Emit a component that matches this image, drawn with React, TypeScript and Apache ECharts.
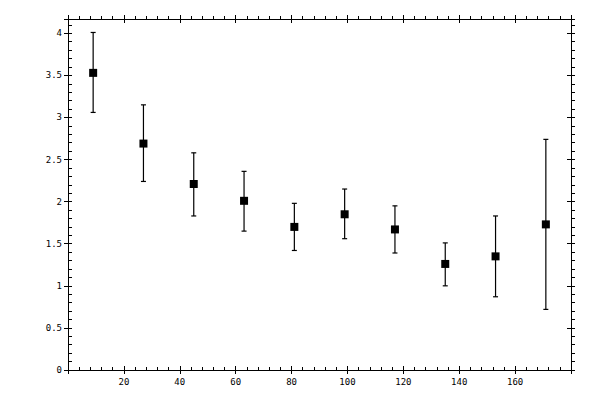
import React, { useEffect, useRef } from "react";
import * as echarts from "echarts";

// bin centres along x
const binCentres = [9, 27, 45, 63, 81, 99, 117, 135, 153, 171];
// mean values
const means = [3.53, 2.69, 2.21, 2.01, 1.7, 1.85, 1.67, 1.26, 1.35, 1.73];
// error bar ends
const lows = [3.06, 2.24, 1.83, 1.65, 1.42, 1.56, 1.39, 1.0, 0.87, 0.72];
const highs = [4.01, 3.15, 2.58, 2.36, 1.98, 2.15, 1.95, 1.51, 1.83, 2.74];

const X_MIN = 0;
const X_MAX = 180;
const Y_MIN = 0;
const Y_MAX = 4.17;

const FONT = "DejaVu Sans Mono";
const lineStyle = { color: "#000", width: 1 };

// one axis per side that carries line, labels and inner/outer ticks,
// plus a helper axis giving the major ticks their other half
const makeX = (position: string, main: boolean, inside: boolean) => ({
  type: "value",
  position,
  min: X_MIN,
  max: X_MAX,
  interval: 20,
  splitLine: { show: false },
  axisLine: { show: main, onZero: false, lineStyle },
  axisTick: { show: true, inside, length: 4, lineStyle },
  minorTick: { show: main, splitNumber: 5, length: 3, lineStyle },
  axisLabel: {
    show: main && position === "bottom",
    showMinLabel: false,
    showMaxLabel: false,
    margin: 7,
    fontFamily: FONT,
    fontSize: 9,
    color: "#000",
  },
});

const makeY = (position: string, main: boolean, inside: boolean) => ({
  type: "value",
  position,
  min: Y_MIN,
  max: Y_MAX,
  interval: 0.5,
  splitLine: { show: false },
  axisLine: { show: main, onZero: false, lineStyle },
  axisTick: { show: true, inside, length: 4, lineStyle },
  minorTick: { show: main, splitNumber: 5, length: 4, lineStyle },
  axisLabel: {
    show: main && position === "left",
    showMaxLabel: false,
    margin: 6,
    fontFamily: FONT,
    fontSize: 9,
    color: "#000",
  },
});

const App = () => {
  const chartRef = useRef<HTMLDivElement>(null);

  useEffect(() => {
    if (!chartRef.current) return;
    const chart = echarts.init(chartRef.current, null, { renderer: "svg" });

    const barData = binCentres.map((x, i) => [x, lows[i], highs[i]]);
    const pointData = binCentres.map((x, i) => [x, means[i]]);

    chart.setOption({
      animation: false,
      backgroundColor: "#fff",
      grid: { left: 68, right: 29, top: 19, bottom: 30 },
      xAxis: [
        makeX("bottom", true, true),
        makeX("bottom", false, false),
        makeX("top", true, false),
        makeX("top", false, true),
      ],
      yAxis: [
        makeY("left", true, true),
        makeY("left", false, false),
        makeY("right", true, false),
        makeY("right", false, true),
      ],
      series: [
        {
          type: "custom",
          xAxisIndex: 0,
          yAxisIndex: 0,
          data: barData,
          renderItem: (params: any, api: any) => {
            const top = api.coord([api.value(0), api.value(2)]);
            const bottom = api.coord([api.value(0), api.value(1)]);
            const half = 2.5;
            const style = { stroke: "#000", lineWidth: 1.2 };
            return {
              type: "group",
              children: [
                { type: "line", shape: { x1: top[0], y1: top[1], x2: bottom[0], y2: bottom[1] }, style },
                { type: "line", shape: { x1: top[0] - half, y1: top[1], x2: top[0] + half, y2: top[1] }, style },
                { type: "line", shape: { x1: bottom[0] - half, y1: bottom[1], x2: bottom[0] + half, y2: bottom[1] }, style },
              ],
            };
          },
        },
        {
          type: "scatter",
          xAxisIndex: 0,
          yAxisIndex: 0,
          symbol: "rect",
          symbolSize: 8,
          itemStyle: { color: "#000", opacity: 1 },
          data: pointData,
          z: 3,
        },
      ],
    });

    return () => {
      chart.dispose();
    };
  }, []);

  return (
    <div
      ref={chartRef}
      style={{ position: "fixed", left: 0, top: 0, width: 600, height: 400 }}
    />
  );
};

export default App;
